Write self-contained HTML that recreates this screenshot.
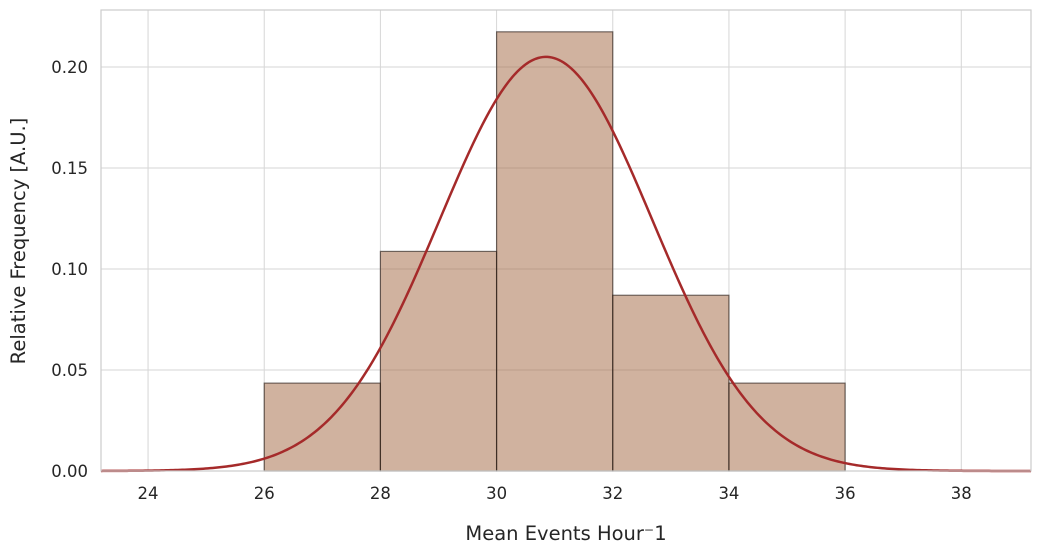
<!DOCTYPE html>
<html><head><meta charset="utf-8"><style>
body{margin:0;background:#fff;}
svg{display:block;font-family:"DejaVu Sans","Liberation Sans",sans-serif;}
</style></head><body>
<svg id="chart" width="1041" height="554"></svg>
<script>
const binEdges=[26,28,30,32,34,36];
const binValues=[0.0435,0.1087,0.2174,0.0870,0.0435];
const xTicks=[24,26,28,30,32,34,36,38];
const yTicks=[0,0.05,0.10,0.15,0.20];
const yTickLabels=["0.00","0.05","0.10","0.15","0.20"];
const fitMu=[30.85];
const fitSigma=[1.83];
const fitPeak=[0.205];

const L=101,R=1031,T=10,B=471;
const xMin=23.19,xMax=39.2,yMin=0,yMax=0.2282;
const sx=v=>L+(v-xMin)/(xMax-xMin)*(R-L);
const sy=v=>B-(v-yMin)/(yMax-yMin)*(B-T);
const svg=document.getElementById('chart');
const NS='http://www.w3.org/2000/svg';
function mk(tag,attrs,parent){const e=document.createElementNS(NS,tag);for(const k in attrs)e.setAttribute(k,attrs[k]);(parent||svg).appendChild(e);return e;}

const grid=mk('g',{});


xTicks.forEach(t=>{mk('line',{x1:sx(t),x2:sx(t),y1:T,y2:B,stroke:'#d6d6d6','stroke-width':1},grid);});
yTicks.forEach(t=>{mk('line',{x1:L,x2:R,y1:sy(t),y2:sy(t),stroke:'#d6d6d6','stroke-width':1},grid);});

binValues.forEach((v,i)=>{
  const r=mk('rect',{x:sx(binEdges[i]),y:sy(v),width:sx(binEdges[i+1])-sx(binEdges[i]),height:sy(0)-sy(v),fill:'rgba(161,101,63,0.5)',stroke:'rgba(30,20,15,0.6)','stroke-width':1.2});
  
  
});

let d='';
for(let i=0;i<=400;i++){
  const x=xMin+(xMax-xMin)*i/400;
  const y=fitPeak[0]*Math.exp(-0.5*Math.pow((x-fitMu[0])/fitSigma[0],2));
  d+=(i?'L':'M')+sx(x).toFixed(2)+','+sy(y).toFixed(2);
}
const curve=mk('path',{d:d,fill:'none',stroke:'#a52a2a','stroke-width':2.5});



const frame=mk('rect',{x:L,y:T,width:R-L,height:B-T,fill:'none',stroke:'#cccccc','stroke-width':1.2});



xTicks.forEach(t=>{const e=mk('text',{x:sx(t),y:499,'text-anchor':'middle','font-size':16.5,fill:'#262626'});e.textContent=t;
  
  });
yTicks.forEach((t,i)=>{const e=mk('text',{x:88,y:sy(t)+6,'text-anchor':'end','font-size':16.5,fill:'#262626'});e.textContent=yTickLabels[i];
  
  });

const xt=mk('text',{x:566,y:540,'text-anchor':'middle','font-size':19.5,fill:'#262626'});
xt.textContent='Mean Events Hour\u207B1';


const yt=mk('text',{x:0,y:0,'text-anchor':'middle','font-size':19.5,fill:'#262626',transform:'translate(25,241) rotate(-90)'});
yt.textContent='Relative Frequency [A.U.]';


</script>
</body></html>
